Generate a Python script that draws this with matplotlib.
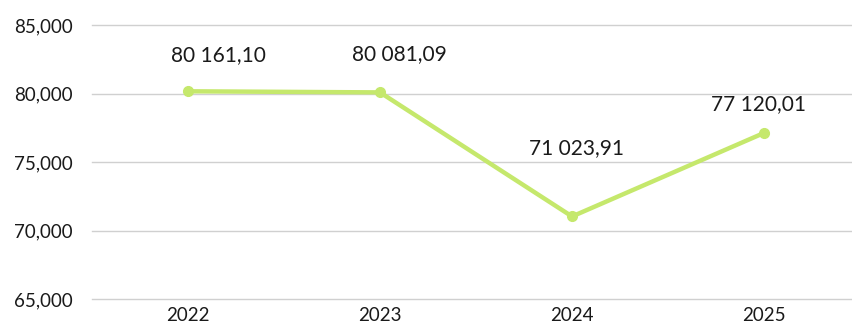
import matplotlib.pyplot as plt

years = ["2022", "2023", "2024", "2025"]
values = [80161.10, 80081.09, 71023.91, 77120.01]
value_labels = ["80 161,10", "80 081,09", "71 023,91", "77 120,01"]

# label offsets from each point, in pixels
label_dx = [30, 19, 4, -6]
label_dy = [36, 38, 68, 29]

plt.rcParams['font.family'] = ['Lato', 'DejaVu Sans']

fig = plt.figure(figsize=(8.52, 3.25), dpi=100)
ax = fig.add_axes([92 / 852, 1 - 299 / 325, 1 - 92 / 852, (299 - 25) / 325])

x = list(range(len(years)))
ax.plot(x, values, color='#c5e86c', linewidth=3.2, marker='o', markersize=7,
        solid_capstyle='round', zorder=3)

for i, (v, t) in enumerate(zip(values, value_labels)):
    ax.annotate(t, (i, v), xytext=(label_dx[i], label_dy[i]),
                textcoords='offset pixels', ha='center', va='center',
                fontsize=15, color='#1a1a1a')

ax.set_xlim(-0.5, 3.458)
ax.set_ylim(65000, 85000)
ax.set_yticks([65000, 70000, 75000, 80000, 85000])
ax.set_yticklabels(["65,000", "70,000", "75,000", "80,000", "85,000"])
ax.set_xticks(x)
ax.set_xticklabels(years)
ax.yaxis.grid(True, color='#d0d0d0', linewidth=1)
for g in ax.get_ygridlines():
    g.set_clip_on(False)
ax.set_axisbelow(True)
for s in ax.spines.values():
    s.set_visible(False)
ax.tick_params(length=0, labelsize=13.5, colors='#1a1a1a')
ax.tick_params(axis='y', pad=14)
ax.tick_params(axis='x', pad=6)

fig.savefig('out.png', dpi=100)
